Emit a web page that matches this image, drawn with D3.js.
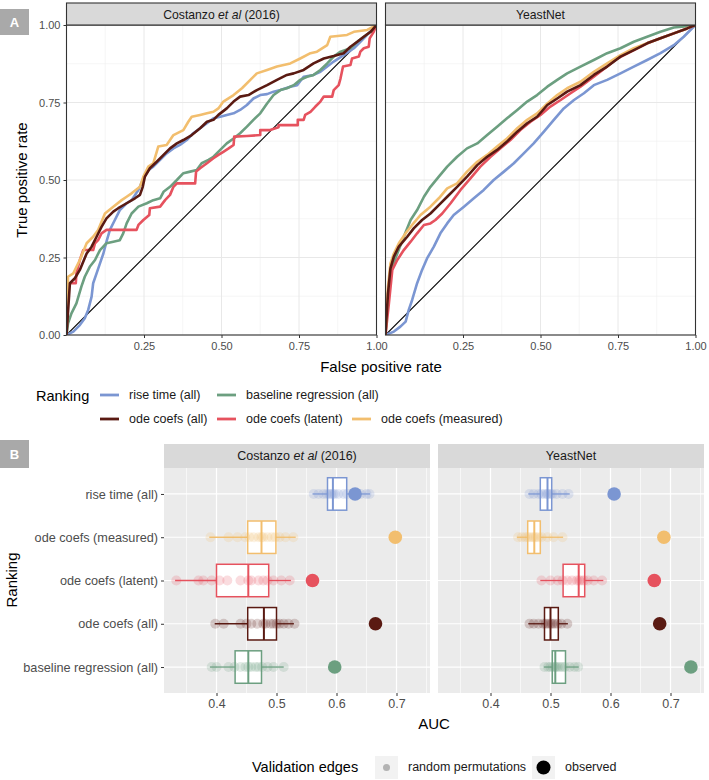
<!DOCTYPE html>
<html><head><meta charset="utf-8">
<script src="https://cdn.jsdelivr.net/npm/d3@7"></script>
<style>body{margin:0;background:#fff} svg{display:block;font-family:"Liberation Sans",Arial,Helvetica,sans-serif}</style>
</head><body><svg id="c" width="709" height="780"></svg>
<script>
// ---------------- DATA ----------------
const rankings = ["rise time (all)","baseline regression (all)","ode coefs (all)","ode coefs (latent)","ode coefs (measured)"];
const rankColors = ["#7b96d2","#6c9f80","#5a1a12","#e6525e","#f2be6e"];
const panelNames = ["Costanzo et al (2016)","YeastNet"];
const rocTicksY = [0,0.25,0.5,0.75,1];
const rocTicksX = [0.25,0.5,0.75,1];
const rocTickLabels = ["0.00","0.25","0.50","0.75","1.00"];

// ROC curves [fpr, tpr] - Costanzo
const rocCostanzoRise = [[0,0],[0.022,0.011],[0.043,0.032],[0.059,0.054],[0.070,0.081],[0.081,0.124],[0.086,0.167],[0.097,0.199],[0.108,0.231],[0.119,0.263],[0.129,0.301],[0.140,0.339],[0.156,0.371],[0.172,0.403],[0.194,0.425],[0.210,0.435],[0.232,0.468],[0.248,0.505],[0.264,0.532],[0.280,0.543],[0.302,0.565],[0.323,0.586],[0.345,0.602],[0.366,0.613],[0.388,0.629],[0.409,0.651],[0.431,0.667],[0.453,0.683],[0.474,0.699],[0.496,0.704],[0.517,0.710],[0.539,0.715],[0.560,0.726],[0.582,0.742],[0.603,0.763],[0.625,0.774],[0.647,0.777],[0.668,0.785],[0.690,0.790],[0.722,0.801],[0.744,0.806],[0.765,0.833],[0.797,0.839],[0.819,0.849],[0.841,0.866],[0.862,0.882],[0.894,0.903],[0.927,0.925],[0.948,0.946],[0.970,0.968],[1,1]];
const rocCostanzoBaseline = [[0,0],[0.005,0.038],[0.016,0.070],[0.032,0.102],[0.048,0.156],[0.059,0.188],[0.075,0.220],[0.092,0.242],[0.108,0.274],[0.129,0.296],[0.151,0.301],[0.172,0.306],[0.183,0.328],[0.194,0.360],[0.210,0.392],[0.232,0.414],[0.259,0.425],[0.280,0.435],[0.302,0.441],[0.313,0.462],[0.334,0.478],[0.356,0.500],[0.377,0.522],[0.399,0.527],[0.420,0.532],[0.436,0.554],[0.458,0.565],[0.474,0.575],[0.496,0.597],[0.517,0.618],[0.539,0.634],[0.560,0.651],[0.582,0.672],[0.603,0.694],[0.625,0.715],[0.647,0.747],[0.668,0.774],[0.690,0.790],[0.711,0.796],[0.733,0.806],[0.754,0.823],[0.776,0.833],[0.797,0.839],[0.819,0.855],[0.841,0.876],[0.862,0.898],[0.884,0.914],[0.916,0.925],[0.938,0.946],[0.959,0.962],[0.981,0.978],[1,1]];
const rocCostanzoAll = [[0,0],[0.011,0.167],[0.027,0.183],[0.043,0.210],[0.065,0.263],[0.081,0.285],[0.097,0.317],[0.113,0.349],[0.129,0.376],[0.151,0.398],[0.167,0.409],[0.194,0.425],[0.221,0.441],[0.237,0.452],[0.246,0.478],[0.253,0.511],[0.269,0.538],[0.291,0.559],[0.313,0.581],[0.334,0.602],[0.356,0.618],[0.377,0.629],[0.404,0.645],[0.431,0.667],[0.453,0.688],[0.474,0.694],[0.490,0.710],[0.517,0.731],[0.539,0.753],[0.560,0.769],[0.587,0.774],[0.614,0.790],[0.647,0.806],[0.679,0.823],[0.711,0.839],[0.733,0.844],[0.765,0.855],[0.797,0.876],[0.830,0.892],[0.862,0.900],[0.894,0.909],[0.916,0.930],[0.938,0.946],[0.959,0.962],[0.981,0.978],[1,1]];
const rocCostanzoLatent = [[0,0],[0.005,0.167],[0.030,0.167],[0.032,0.199],[0.043,0.242],[0.054,0.274],[0.086,0.274],[0.092,0.296],[0.102,0.306],[0.113,0.328],[0.129,0.339],[0.226,0.339],[0.232,0.355],[0.248,0.371],[0.267,0.387],[0.269,0.409],[0.302,0.414],[0.318,0.435],[0.334,0.452],[0.345,0.478],[0.356,0.489],[0.415,0.489],[0.418,0.527],[0.431,0.538],[0.453,0.554],[0.474,0.570],[0.490,0.581],[0.506,0.591],[0.523,0.602],[0.539,0.613],[0.541,0.640],[0.582,0.642],[0.625,0.645],[0.625,0.661],[0.657,0.661],[0.684,0.670],[0.684,0.677],[0.746,0.677],[0.746,0.694],[0.765,0.694],[0.770,0.710],[0.787,0.720],[0.803,0.737],[0.819,0.753],[0.830,0.769],[0.857,0.769],[0.862,0.790],[0.878,0.806],[0.884,0.828],[0.892,0.866],[0.916,0.871],[0.921,0.892],[0.943,0.898],[0.948,0.914],[0.959,0.925],[0.975,0.930],[0.978,0.957],[0.991,0.978],[1,1]];
const rocCostanzoMeasured = [[0,0],[0.005,0.188],[0.022,0.199],[0.043,0.242],[0.065,0.296],[0.086,0.317],[0.102,0.339],[0.124,0.392],[0.151,0.414],[0.178,0.435],[0.194,0.446],[0.210,0.457],[0.237,0.478],[0.248,0.511],[0.264,0.543],[0.280,0.554],[0.296,0.608],[0.323,0.613],[0.345,0.645],[0.377,0.661],[0.393,0.688],[0.404,0.704],[0.431,0.710],[0.453,0.715],[0.474,0.720],[0.490,0.731],[0.506,0.753],[0.539,0.774],[0.566,0.796],[0.593,0.823],[0.614,0.844],[0.647,0.855],[0.679,0.866],[0.722,0.876],[0.754,0.892],[0.787,0.909],[0.808,0.914],[0.841,0.935],[0.851,0.962],[0.905,0.968],[0.927,0.978],[0.970,0.984],[1,1]];

// ROC curves [fpr, tpr] - YeastNet
const rocYeastRise = [[0,0],[0.027,0.011],[0.048,0.027],[0.065,0.043],[0.075,0.081],[0.086,0.113],[0.102,0.167],[0.118,0.210],[0.134,0.247],[0.156,0.285],[0.177,0.328],[0.199,0.360],[0.220,0.387],[0.253,0.414],[0.285,0.441],[0.317,0.468],[0.349,0.500],[0.382,0.527],[0.414,0.554],[0.446,0.586],[0.478,0.618],[0.511,0.656],[0.543,0.694],[0.575,0.731],[0.608,0.758],[0.640,0.780],[0.672,0.806],[0.715,0.823],[0.758,0.844],[0.801,0.866],[0.844,0.887],[0.887,0.909],[0.930,0.935],[0.962,0.962],[1,1]];
const rocYeastBaseline = [[0,0],[0.005,0.102],[0.011,0.156],[0.022,0.220],[0.038,0.263],[0.059,0.317],[0.081,0.371],[0.102,0.403],[0.124,0.446],[0.145,0.478],[0.172,0.511],[0.199,0.543],[0.231,0.575],[0.263,0.602],[0.296,0.618],[0.328,0.645],[0.360,0.672],[0.392,0.699],[0.425,0.726],[0.457,0.753],[0.489,0.774],[0.522,0.801],[0.554,0.823],[0.586,0.844],[0.629,0.866],[0.672,0.887],[0.715,0.909],[0.758,0.925],[0.801,0.946],[0.844,0.962],[0.887,0.978],[0.930,0.992],[0.973,0.996],[1,1]];
const rocYeastAll = [[0,0],[0.008,0.134],[0.016,0.215],[0.027,0.253],[0.043,0.285],[0.070,0.317],[0.091,0.344],[0.118,0.371],[0.145,0.392],[0.172,0.419],[0.199,0.446],[0.231,0.478],[0.263,0.511],[0.296,0.548],[0.328,0.575],[0.360,0.597],[0.392,0.624],[0.425,0.656],[0.457,0.683],[0.489,0.704],[0.522,0.742],[0.554,0.763],[0.586,0.785],[0.629,0.806],[0.672,0.839],[0.715,0.866],[0.758,0.898],[0.801,0.919],[0.844,0.941],[0.887,0.957],[0.930,0.973],[0.973,0.989],[1,1]];
const rocYeastLatent = [[0,0],[0.011,0.102],[0.022,0.210],[0.038,0.242],[0.059,0.274],[0.081,0.301],[0.102,0.328],[0.124,0.355],[0.145,0.360],[0.161,0.371],[0.183,0.392],[0.210,0.425],[0.242,0.468],[0.274,0.505],[0.306,0.543],[0.339,0.575],[0.371,0.602],[0.403,0.629],[0.435,0.661],[0.468,0.688],[0.500,0.710],[0.532,0.737],[0.565,0.758],[0.597,0.780],[0.629,0.801],[0.672,0.833],[0.715,0.866],[0.747,0.892],[0.801,0.919],[0.844,0.941],[0.887,0.957],[0.930,0.973],[0.973,0.989],[1,1]];
const rocYeastMeasured = [[0,0],[0.008,0.156],[0.016,0.231],[0.027,0.263],[0.043,0.296],[0.065,0.328],[0.086,0.355],[0.113,0.387],[0.145,0.414],[0.172,0.441],[0.199,0.473],[0.231,0.489],[0.263,0.527],[0.296,0.559],[0.328,0.581],[0.360,0.608],[0.392,0.634],[0.425,0.667],[0.457,0.694],[0.489,0.715],[0.522,0.747],[0.554,0.774],[0.586,0.796],[0.629,0.817],[0.672,0.849],[0.715,0.876],[0.758,0.903],[0.801,0.925],[0.844,0.941],[0.887,0.957],[0.930,0.973],[0.973,0.989],[1,1]];

// Panel B: AUC of permutations and observed
const aucCategories = ["rise time (all)","ode coefs (measured)","ode coefs (latent)","ode coefs (all)","baseline regression (all)"];
const aucTicks = [0.4,0.5,0.6,0.7];
const aucMinorTicks = [0.35,0.45,0.55,0.65,0.75];
const costanzoQ1 = [0.585,0.452,0.400,0.452,0.431];
const costanzoMedian = [0.594,0.475,0.453,0.479,0.453];
const costanzoQ3 = [0.617,0.499,0.487,0.500,0.475];
const costanzoLow = [0.560,0.388,0.331,0.397,0.389];
const costanzoHigh = [0.656,0.532,0.524,0.529,0.512];
const costanzoObserved = [0.631,0.698,0.560,0.665,0.597];
const costanzoPermutations = [
  [0.562,0.570,0.578,0.584,0.588,0.591,0.594,0.597,0.603,0.612,0.618,0.628,0.640,0.650,0.655],
  [0.390,0.420,0.435,0.448,0.455,0.462,0.470,0.475,0.478,0.485,0.492,0.498,0.505,0.515,0.528],
  [0.333,0.370,0.378,0.392,0.405,0.418,0.440,0.453,0.458,0.470,0.478,0.485,0.495,0.508,0.522],
  [0.398,0.412,0.440,0.450,0.458,0.468,0.478,0.482,0.490,0.495,0.500,0.505,0.512,0.520,0.530],
  [0.392,0.400,0.420,0.430,0.440,0.448,0.453,0.458,0.465,0.470,0.476,0.485,0.495,0.512]
];
const yeastQ1 = [0.483,0.462,0.521,0.490,0.503];
const yeastMedian = [0.495,0.473,0.547,0.500,0.508];
const yeastQ3 = [0.502,0.483,0.557,0.513,0.525];
const yeastLow = [0.463,0.444,0.483,0.463,0.489];
const yeastHigh = [0.532,0.521,0.588,0.529,0.547];
const yeastObserved = [0.606,0.689,0.673,0.682,0.734];
const yeastPermutations = [
  [0.465,0.472,0.480,0.485,0.490,0.494,0.496,0.500,0.503,0.510,0.520,0.530],
  [0.446,0.452,0.458,0.462,0.466,0.470,0.473,0.476,0.480,0.485,0.495,0.505,0.520],
  [0.485,0.500,0.512,0.520,0.528,0.536,0.544,0.548,0.552,0.556,0.562,0.572,0.586],
  [0.465,0.472,0.480,0.488,0.492,0.496,0.500,0.503,0.507,0.512,0.518,0.528],
  [0.490,0.496,0.500,0.504,0.507,0.509,0.512,0.516,0.520,0.524,0.532,0.540,0.546]
];
const validationLabels = ["random permutations","observed"];

// ---------------- DRAW ----------------
const svg = d3.select("#c");
const colorOf = d3.scaleOrdinal().domain(rankings).range(rankColors);
const TICK_COL = "#4d4d4d";

function stripText(g, name, cx, cy, fs) {
  const t = g.append("text").attr("x", cx).attr("y", cy).attr("text-anchor","middle")
    .attr("dy","0.35em").attr("font-size",fs).attr("fill","#1a1a1a");
  if (name.indexOf("et al") >= 0) {
    t.append("tspan").text("Costanzo ");
    t.append("tspan").attr("font-style","italic").text("et al");
    t.append("tspan").text(" (2016)");
  } else t.text(name);
}

function panelLabel(txt, y0, y1) {
  svg.append("rect").attr("x",0).attr("y",y0).attr("width",29).attr("height",y1-y0).attr("fill","#a9a9a9");
  svg.append("text").attr("x",14.5).attr("y",(y0+y1)/2).attr("dy","0.36em").attr("text-anchor","middle")
    .attr("font-size",13).attr("font-weight","bold").attr("fill","#fff").text(txt);
}
panelLabel("A", 9, 35);
panelLabel("B", 440, 468);

// ---- Panel A ----
const aTop = 25, aBot = 335;
const yA = d3.scaleLinear().domain([0,1]).range([aBot, aTop]);
const aPanels = [
  {name: panelNames[0], x0: 66.5, x1: 376.5, curves: [rocCostanzoRise, rocCostanzoBaseline, rocCostanzoAll, rocCostanzoLatent, rocCostanzoMeasured]},
  {name: panelNames[1], x0: 385.5, x1: 695.5, curves: [rocYeastRise, rocYeastBaseline, rocYeastAll, rocYeastLatent, rocYeastMeasured]}
];
const drawOrder = [0,1,3,4,2];
aPanels.forEach((p, pi) => {
  const x = d3.scaleLinear().domain([0,1]).range([p.x0, p.x1]);
  const g = svg.append("g");
  g.append("rect").attr("x",p.x0).attr("y",aTop).attr("width",p.x1-p.x0).attr("height",aBot-aTop).attr("fill","#fff");
  const minor = [0.125,0.375,0.625,0.875];
  minor.forEach(v => {
    g.append("line").attr("x1",x(v)).attr("x2",x(v)).attr("y1",aTop).attr("y2",aBot).attr("stroke","#f0f0f0").attr("stroke-width",0.6);
    g.append("line").attr("y1",yA(v)).attr("y2",yA(v)).attr("x1",p.x0).attr("x2",p.x1).attr("stroke","#f0f0f0").attr("stroke-width",0.6);
  });
  rocTicksY.forEach(v => {
    g.append("line").attr("x1",x(v)).attr("x2",x(v)).attr("y1",aTop).attr("y2",aBot).attr("stroke","#e8e8e8").attr("stroke-width",1);
    g.append("line").attr("y1",yA(v)).attr("y2",yA(v)).attr("x1",p.x0).attr("x2",p.x1).attr("stroke","#e8e8e8").attr("stroke-width",1);
  });
  const clipId = "clipA" + pi;
  svg.append("clipPath").attr("id", clipId).append("rect").attr("x",p.x0).attr("y",aTop).attr("width",p.x1-p.x0).attr("height",aBot-aTop);
  const lg = g.append("g").attr("clip-path", `url(#${clipId})`);
  lg.append("line").attr("x1",x(0)).attr("y1",yA(0)).attr("x2",x(1)).attr("y2",yA(1)).attr("stroke","#000").attr("stroke-width",1.1);
  const line = d3.line().x(d => x(d[0])).y(d => yA(d[1]));
  drawOrder.forEach(i => {
    lg.append("path").attr("d", line(p.curves[i])).attr("fill","none")
      .attr("stroke", colorOf(rankings[i])).attr("stroke-width",2.6).attr("stroke-linejoin","round");
  });
  g.append("rect").attr("x",p.x0).attr("y",aTop).attr("width",p.x1-p.x0).attr("height",aBot-aTop)
    .attr("fill","none").attr("stroke","#333").attr("stroke-width",1.1);
  g.append("rect").attr("x",p.x0).attr("y",3).attr("width",p.x1-p.x0).attr("height",aTop-3)
    .attr("fill","#d9d9d9").attr("stroke","#333").attr("stroke-width",1.1);
  stripText(g, p.name, (p.x0+p.x1)/2, 14.5, 12.2);
  const ax = g.append("g").attr("transform",`translate(0,${aBot})`)
    .call(d3.axisBottom(x).tickValues(rocTicksX).tickFormat(d => d3.format(".2f")(d)).tickSize(3).tickPadding(4));
  ax.select(".domain").remove();
  ax.selectAll("line").attr("stroke","#333");
  ax.selectAll("text").attr("fill",TICK_COL).attr("font-size",11).attr("font-family",null);
  if (pi === 0) {
    const ay = g.append("g").attr("transform",`translate(${p.x0},0)`)
      .call(d3.axisLeft(yA).tickValues(rocTicksY).tickFormat((d,i) => rocTickLabels[i]).tickSize(3).tickPadding(3));
    ay.select(".domain").remove();
    ay.selectAll("line").attr("stroke","#333");
    ay.selectAll("text").attr("fill",TICK_COL).attr("font-size",11).attr("font-family",null);
  }
});
svg.append("text").attr("x",381).attr("y",367).attr("dy","0.35em").attr("text-anchor","middle").attr("font-size",15).text("False positive rate");
svg.append("text").attr("transform","translate(22,180) rotate(-90)").attr("dy","0.35em").attr("text-anchor","middle").attr("font-size",15).text("True positive rate");

// Ranking legend
svg.append("text").attr("x",36).attr("y",396).attr("dy","0.35em").attr("font-size",14.5).text("Ranking");
const legendPos = [
  {i:0, x:100, y:395}, {i:1, x:217, y:395},
  {i:2, x:100, y:419}, {i:3, x:217, y:419}, {i:4, x:352, y:419}
];
legendPos.forEach(l => {
  svg.append("line").attr("x1",l.x).attr("x2",l.x+19).attr("y1",l.y).attr("y2",l.y)
    .attr("stroke",colorOf(rankings[l.i])).attr("stroke-width",2.8);
  svg.append("text").attr("x",l.x+29).attr("y",l.y).attr("dy","0.35em").attr("font-size",12.5).attr("fill","#1a1a1a").text(rankings[l.i]);
});

// ---- Panel B ----
const bTop = 468, bBot = 693;
const yB = d3.scalePoint().domain(aucCategories).range([bTop, bBot]).padding(0.6);
const boxH = yB.step() * 0.75;
const bPanels = [
  {name: panelNames[0], x0: 164, x1: 430, q1: costanzoQ1, med: costanzoMedian, q3: costanzoQ3, lo: costanzoLow, hi: costanzoHigh, obs: costanzoObserved, perm: costanzoPermutations},
  {name: panelNames[1], x0: 438, x1: 704, q1: yeastQ1, med: yeastMedian, q3: yeastQ3, lo: yeastLow, hi: yeastHigh, obs: yeastObserved, perm: yeastPermutations}
];
const aucDomain = [0.3125, 0.3125 + 266/600];
bPanels.forEach((p, pi) => {
  const x = d3.scaleLinear().domain(aucDomain).range([p.x0, p.x1]);
  const g = svg.append("g");
  g.append("rect").attr("x",p.x0).attr("y",bTop).attr("width",p.x1-p.x0).attr("height",bBot-bTop).attr("fill","#ebebeb");
  aucMinorTicks.forEach(v => g.append("line").attr("x1",x(v)).attr("x2",x(v)).attr("y1",bTop).attr("y2",bBot).attr("stroke","#fff").attr("stroke-width",0.6));
  aucTicks.forEach(v => g.append("line").attr("x1",x(v)).attr("x2",x(v)).attr("y1",bTop).attr("y2",bBot).attr("stroke","#fff").attr("stroke-width",1.2));
  aucCategories.forEach(c => g.append("line").attr("x1",p.x0).attr("x2",p.x1).attr("y1",yB(c)).attr("y2",yB(c)).attr("stroke","#fff").attr("stroke-width",1.2));
  g.append("rect").attr("x",p.x0).attr("y",444).attr("width",p.x1-p.x0).attr("height",bTop-444).attr("fill","#d9d9d9");
  stripText(g, p.name, (p.x0+p.x1)/2, 456, 12.5);
  aucCategories.forEach((c, ci) => {
    const col = colorOf(c), cy = yB(c);
    g.append("line").attr("x1",x(p.lo[ci])).attr("x2",x(p.q1[ci])).attr("y1",cy).attr("y2",cy).attr("stroke",col).attr("stroke-width",1.3);
    g.append("line").attr("x1",x(p.q3[ci])).attr("x2",x(p.hi[ci])).attr("y1",cy).attr("y2",cy).attr("stroke",col).attr("stroke-width",1.3);
    g.append("rect").attr("x",x(p.q1[ci])).attr("y",cy-boxH/2).attr("width",x(p.q3[ci])-x(p.q1[ci])).attr("height",boxH)
      .attr("fill","#fff").attr("stroke",col).attr("stroke-width",1.5);
    g.append("line").attr("x1",x(p.med[ci])).attr("x2",x(p.med[ci])).attr("y1",cy-boxH/2).attr("y2",cy+boxH/2).attr("stroke",col).attr("stroke-width",2);
    g.selectAll(null).data(p.perm[ci]).enter().append("circle")
      .attr("cx",d => x(d)).attr("cy",cy).attr("r",5).attr("fill",col).attr("fill-opacity",0.2);
    g.append("circle").attr("cx",x(p.obs[ci])).attr("cy",cy).attr("r",6.8).attr("fill",col);
  });
  const ax = g.append("g").attr("transform",`translate(0,${bBot})`)
    .call(d3.axisBottom(x).tickValues(aucTicks).tickFormat(d3.format(".1f")).tickSize(3).tickPadding(3));
  ax.select(".domain").remove();
  ax.selectAll("line").attr("stroke","#333");
  ax.selectAll("text").attr("fill",TICK_COL).attr("font-size",12.5).attr("font-family",null);
  if (pi === 0) {
    const ay = g.append("g").attr("transform",`translate(${p.x0},0)`)
      .call(d3.axisLeft(yB).tickSize(3).tickPadding(3));
    ay.select(".domain").remove();
    ay.selectAll("line").attr("stroke","#333");
    ay.selectAll("text").attr("fill",TICK_COL).attr("font-size",12.7).attr("font-family",null);
  }
});
svg.append("text").attr("x",434).attr("y",724).attr("dy","0.35em").attr("text-anchor","middle").attr("font-size",15).text("AUC");
svg.append("text").attr("transform","translate(12,580) rotate(-90)").attr("dy","0.35em").attr("text-anchor","middle").attr("font-size",15).text("Ranking");

// Validation legend
svg.append("text").attr("x",252).attr("y",767).attr("dy","0.35em").attr("font-size",14.5).text("Validation edges");
[{x:375, r:3.5, col:"#b3b3b3"},{x:532, r:7, col:"#000"}].forEach((k, i) => {
  svg.append("rect").attr("x",k.x).attr("y",756).attr("width",23).attr("height",23).attr("fill","#f2f2f2");
  svg.append("circle").attr("cx",k.x+11.5).attr("cy",767.5).attr("r",k.r).attr("fill",k.col);
  svg.append("text").attr("x",k.x+33).attr("y",767).attr("dy","0.35em").attr("font-size",12.5).attr("fill","#1a1a1a").text(validationLabels[i]);
});
</script></body></html>
